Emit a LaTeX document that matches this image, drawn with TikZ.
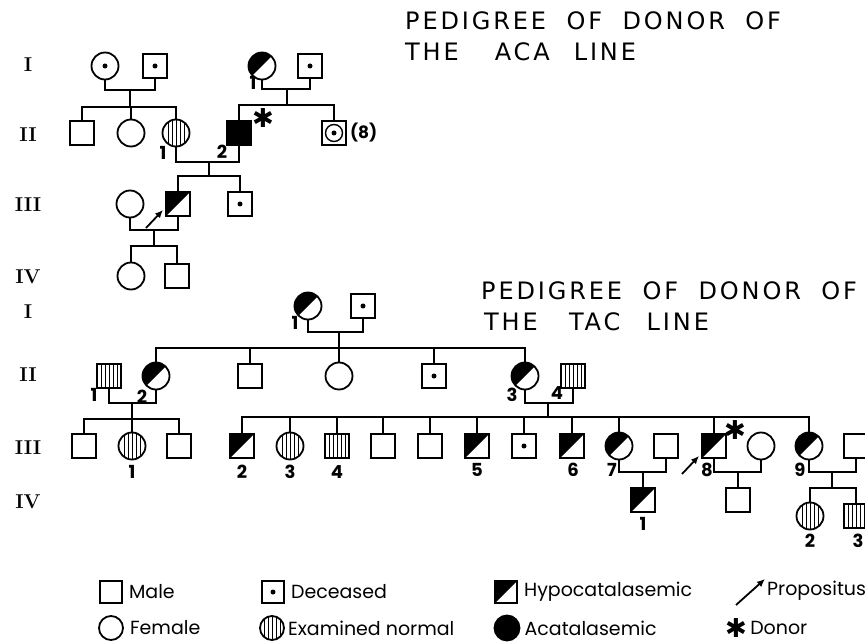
\documentclass[tikz,border=0pt]{standalone}
\usepackage{fontspec}
\usepackage{tikz}
\usetikzlibrary{arrows.meta,positioning}
\newfontfamily\keyfont{Poppins}
\newfontfamily\titlefont[LetterSpace=12]{DejaVu Sans}
\newfontfamily\glyphfont{DejaVu Sans}
\newcommand\wgap{\hspace{0.85em}}

\begin{document}
\begin{tikzpicture}[
    x=1pt, y=-1pt,
    sym/.style={draw, line width=1.8pt, inner sep=0pt},
    male/.style={sym, rectangle, minimum size=24pt},
    female/.style={sym, circle, minimum size=27pt},
    dead/.style={path picture={\fill (path picture bounding box.center) circle (2.5pt);}},
    normal/.style={path picture={\foreach \k in {-2,...,2}
        \draw[line width=1pt] ([xshift=\k*4pt]path picture bounding box.north) -- ([xshift=\k*4pt]path picture bounding box.south);}},
    hypo/.style={path picture={\fill (path picture bounding box.south west) -- (path picture bounding box.north west) -- (path picture bounding box.north east) -- cycle;}},
    aca/.style={fill=black},
    many/.style={path picture={\draw[line width=1.4pt] (path picture bounding box.center) circle (8.5pt);
        \fill (path picture bounding box.center) circle (2.5pt);}},
    gen/.style={font=\bfseries\fontsize{20}{20}\selectfont, inner sep=0pt},
    num/.style={font=\keyfont\bfseries\fontsize{18}{18}\selectfont, inner sep=0pt},
    donor/.style={font=\glyphfont\fontsize{26}{26}\selectfont, inner sep=0pt},
    title/.style={font=\titlefont\fontsize{24}{24}\selectfont, anchor=west, inner sep=0pt},
    key/.style={font=\keyfont\fontsize{19}{19}\selectfont, inner sep=0pt},
    line/.style={line width=1.8pt},
    prop/.style={-{Latex[length=8pt,width=7pt]}, line width=1.8pt}
]
\useasboundingbox (0,0) rectangle (865,644);
\clip (0,0) rectangle (865,644);

% generation numbers
\node[gen] (ga1) at (28,65) {I};
\node[gen] (ga2) at (28,135) {II};
\node[gen] (ga3) at (28,205) {III};
\node[gen] (ga4) at (28,277) {IV};
\node[gen] (gt1) at (28,312) {I};
\node[gen] (gt2) at (28,375) {II};
\node[gen] (gt3) at (28,448) {III};
\node[gen] (gt4) at (28,502) {IV};

% titles
\node[title] (tita1) at (405,21) {PEDIGREE\wgap OF\wgap DONOR\wgap OF};
\node[title] (tita2) at (405,52) {THE\hspace{1.5em}ACA\hspace{1em}LINE};
\node[title] (titt1) at (481,291) {PEDIGREE\wgap OF\wgap DONOR\wgap OF};
\node[title] (titt2) at (484,322) {THE\hspace{1.3em}TAC\hspace{1.1em}LINE};

% ACA line
\node[female, dead] (a1f) at (105,66) {};
\node[male, dead] (a1m) at (155,66) {};
\node[female, hypo] (a1h) at (262,66) {};
\node[male, dead] (a1d) at (310,66) {};

\node[male] (a2a) at (82,133) {};
\node[female] (a2b) at (131,133) {};
\node[female, normal] (a2c) at (176,133) {};
\node[male, aca] (a2d) at (239,133) {};
\node[male, many] (a2e) at (334,133) {};

\node[female] (a3a) at (130,204) {};
\node[male, hypo] (a3b) at (178,204) {};
\node[male, dead] (a3c) at (240,204) {};

\node[female] (a4a) at (131,276) {};
\node[male] (a4b) at (177,276) {};

\node[num] (na1h) at (253,83) {1};
\node[num] (na2c) at (163,153) {1};
\node[num] (na2d) at (222,152) {2};
\node[num, font=\keyfont\bfseries\fontsize{17}{17}\selectfont, right=3pt of a2e] (na2e) {(8)};
\node[donor] (da2d) at (263,118) {✱};

\coordinate (am1) at (130,90);
\coordinate (as1) at (130,107);
\coordinate (am2) at (287,89);
\coordinate (as2) at (287,105);
\coordinate (am3) at (209,162);
\coordinate (as3) at (209,176);
\coordinate (am4) at (154,230);
\coordinate (as4) at (154,246);

\draw[line] (a1f) |- (am1) -| (a1m);
\draw[line] (am1) -- (as1);
\draw[line] (as1) -| (a2a);
\draw[line] (as1) -| (a2b);
\draw[line] (as1) -| (a2c);
\draw[line] (a1h) |- (am2) -| (a1d);
\draw[line] (am2) -- (as2);
\draw[line] (as2) -| (a2d);
\draw[line] (as2) -| (a2e);
\draw[line] (a2c) |- (am3) -| (a2d);
\draw[line] (am3) -- (as3);
\draw[line] (as3) -| (a3b);
\draw[line] (as3) -| (a3c);
\draw[line] (a3a) |- (am4) -| (a3b);
\draw[line] (am4) -- (as4);
\draw[line] (as4) -| (a4a);
\draw[line] (as4) -| (a4b);

\coordinate (pa-tail) at (146,228);
\coordinate (pa-tip) at (163,210);
\draw[prop] (pa-tail) -- (pa-tip);

% TAC line
\node[female, hypo] (t1f) at (308,306) {};
\node[male, dead] (t1m) at (363,306) {};

\node[male, normal] (t2a) at (109,376) {};
\node[female, hypo] (t2b) at (156,376) {};
\node[male] (t2c) at (250,376) {};
\node[female] (t2d) at (339,376) {};
\node[male, dead] (t2e) at (434,376) {};
\node[female, hypo] (t2f) at (525,376) {};
\node[male, normal] (t2g) at (573,376) {};

\node[male] (t3a) at (84,446) {};
\node[female, normal] (t3b) at (132,446) {};
\node[male] (t3c) at (179,446) {};
\node[male, hypo] (t3d) at (242,446) {};
\node[female, normal] (t3e) at (290,446) {};
\node[male, normal] (t3f) at (337,446) {};
\node[male] (t3g) at (383,446) {};
\node[male] (t3h) at (430,446) {};
\node[male, hypo] (t3i) at (477,446) {};
\node[male, dead] (t3j) at (524,446) {};
\node[male, hypo] (t3k) at (572,446) {};
\node[female, hypo] (t3l) at (619,446) {};
\node[male] (t3ls) at (666,446) {};
\node[male, hypo] (t3m) at (714,446) {};
\node[female] (t3ms) at (761,446) {};
\node[female, hypo] (t3n) at (809,446) {};
\node[male] (t3ns) at (856,446) {};

\node[male, hypo] (t4a) at (643,500) {};
\node[male] (t4b) at (738,500) {};
\node[female, normal] (t4c) at (810,516) {};
\node[male, normal] (t4d) at (856,516) {};

\node[num] (nt1f) at (295,323) {1};
\node[num] (nt2a) at (94,395) {1};
\node[num] (nt2b) at (142,397) {2};
\node[num] (nt2f) at (512,395) {3};
\node[num] (nt2g) at (557,393) {4};
\node[num] (nt3b) at (132,472) {1};
\node[num] (nt3d) at (242,472) {2};
\node[num] (nt3e) at (290,472) {3};
\node[num] (nt3f) at (337,472) {4};
\node[num] (nt3i) at (477,470) {5};
\node[num] (nt3k) at (573,470) {6};
\node[num] (nt3l) at (612,470) {7};
\node[num] (nt3m) at (707,470) {8};
\node[num] (nt3n) at (800,470) {9};
\node[num] (nt4a) at (643,524) {1};
\node[num] (nt4c) at (810,541) {2};
\node[num] (nt4d) at (858,541) {3};
\node[donor] (dt3m) at (735,430) {✱};

\coordinate (tm1) at (339,332);
\coordinate (ts1) at (339,348);
\coordinate (tm2) at (132,403);
\coordinate (ts2) at (132,419);
\coordinate (tm3) at (548,403);
\coordinate (ts3) at (548,417);
\coordinate (tm4) at (643,472);
\coordinate (tm5) at (738,472);
\coordinate (tm6) at (832,472);
\coordinate (ts6) at (832,488);

\draw[line] (t1f) |- (tm1) -| (t1m);
\draw[line] (tm1) -- (ts1);
\foreach \c in {t2b,t2c,t2d,t2e,t2f}
    \draw[line] (ts1) -| (\c);
\draw[line] (t2a) |- (tm2) -| (t2b);
\draw[line] (tm2) -- (ts2);
\foreach \c in {t3a,t3b,t3c}
    \draw[line] (ts2) -| (\c);
\draw[line] (t2f) |- (tm3) -| (t2g);
\draw[line] (tm3) -- (ts3);
\foreach \c in {t3d,t3e,t3f,t3g,t3h,t3i,t3j,t3k,t3l,t3m,t3n}
    \draw[line] (ts3) -| (\c);
\draw[line] (t3l) |- (tm4) -| (t3ls);
\draw[line] (tm4) -- (t4a);
\draw[line] (t3m) |- (tm5) -| (t3ms);
\draw[line] (tm5) -- (t4b);
\draw[line] (t3n) |- (tm6) -| (t3ns);
\draw[line] (tm6) -- (ts6);
\draw[line] (ts6) -| (t4c);
\draw[line] (ts6) -| (t4d);

\coordinate (pt-tail) at (682,474);
\coordinate (pt-tip) at (699,456);
\draw[prop] (pt-tail) -- (pt-tip);

% key
\node[male, minimum size=22pt] (kmale) at (111,592) {};
\node[key, right=6pt of kmale] (kmalet) {Male};
\node[female, minimum size=24pt] (kfemale) at (111,628) {};
\node[key, right=6pt of kfemale] (kfemalet) {Female};
\node[male, dead, minimum size=22pt] (kdead) at (273,592) {};
\node[key, right=6pt of kdead] (kdeadt) {Deceased};
\node[female, normal, minimum size=24pt] (knormal) at (272,628) {};
\node[key, right=3pt of knormal] (knormalt) {Examined normal};
\node[male, hypo, minimum size=22pt] (khypo) at (506,592) {};
\node[key, right=6pt of khypo] (khypot) {Hypocatalasemic};
\node[female, aca, minimum size=25pt] (kaca) at (507,628) {};
\node[key, right=4pt of kaca] (kacat) {Acatalasemic};
\coordinate (kprop-tail) at (736,605);
\coordinate (kprop-tip) at (765,579);
\draw[prop] (kprop-tail) -- (kprop-tip);
\node[key, anchor=west] (kpropt) at (767,591) {Propositus};
\node[donor] (kdonor) at (736,628) {✱};
\node[key, right=3pt of kdonor] (kdonort) {Donor};
\end{tikzpicture}
\end{document}
